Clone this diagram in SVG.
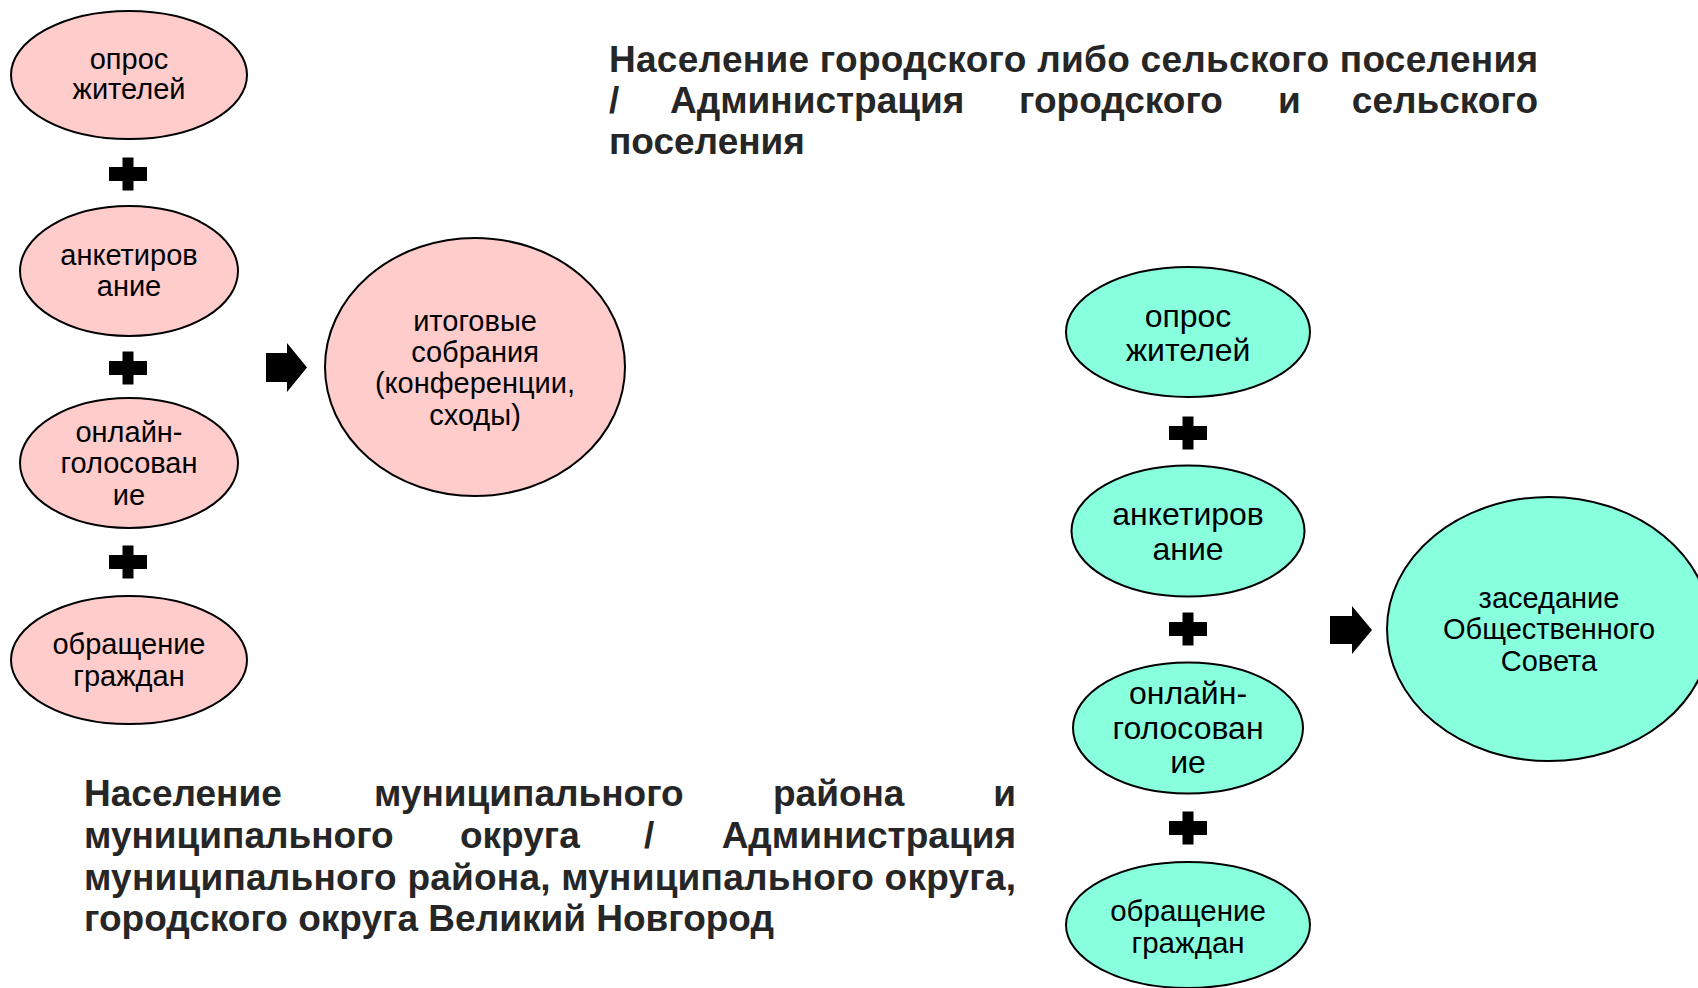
<svg xmlns="http://www.w3.org/2000/svg" xmlns:xlink="http://www.w3.org/1999/xlink" width="1698" height="988" viewBox="0 0 1698 988">
<style>
.pink{fill:#FFCCCC;stroke:#000;stroke-width:2}
.green{fill:#88FFDD;stroke:#000;stroke-width:2}
.t{font-family:"Liberation Sans",Arial,sans-serif;fill:#000;text-anchor:middle}
.p{font-size:29px}
.g{font-size:32px}
.g4{font-size:29.5px}
.gb{font-size:29px}
.h{font-family:"Liberation Sans",Arial,sans-serif;font-weight:bold;font-size:37px;fill:#262626}
.e{text-anchor:end}
</style>
<defs>
<path id="plus" d="M-19,-7H-5.5V-16.5H5.5V-7H19V7H5.5V16.5H-5.5V7H-19Z" fill="#000"/>
</defs>
<rect width="1698" height="988" fill="#fff"/>

<g id="title-top">
<text class="h" x="609" y="72" textLength="929" lengthAdjust="spacing">Население городского либо сельского поселения</text>
<text class="h" y="113"><tspan x="609">/</tspan><tspan x="670">Администрация</tspan><tspan x="1019">городского</tspan><tspan x="1278">и</tspan></text>
<text class="h e" x="1538" y="113">сельского</text>
<text class="h" x="609" y="154">поселения</text>
</g>

<g id="title-bottom">
<text class="h" y="806"><tspan x="84">Население</tspan><tspan x="374">муниципального</tspan><tspan x="773">района</tspan></text>
<text class="h e" x="1016" y="806">и</text>
<text class="h" y="848"><tspan x="84">муниципального</tspan><tspan x="460">округа</tspan><tspan x="644">/</tspan></text>
<text class="h e" x="1016" y="848">Администрация</text>
<text class="h" x="84" y="890" textLength="932" lengthAdjust="spacing">муниципального района, муниципального округа,</text>
<text class="h" x="84" y="931">городского округа Великий Новгород</text>
</g>

<g id="p1"><ellipse class="pink" cx="129" cy="75" rx="118" ry="64"/>
<text class="t p"><tspan x="129" y="69">опрос</tspan><tspan x="129" y="99">жителей</tspan></text></g>
<g id="p2"><ellipse class="pink" cx="129" cy="271" rx="109" ry="65"/>
<text class="t p"><tspan x="129" y="265">анкетиров</tspan><tspan x="129" y="296">ание</tspan></text></g>
<g id="p3"><ellipse class="pink" cx="129" cy="463" rx="109" ry="65"/>
<text class="t p"><tspan x="129" y="442">онлайн-</tspan><tspan x="129" y="473">голосован</tspan><tspan x="129" y="505">ие</tspan></text></g>
<g id="p4"><ellipse class="pink" cx="129" cy="660" rx="118" ry="64"/>
<text class="t p"><tspan x="129" y="654">обращение</tspan><tspan x="129" y="686">граждан</tspan></text></g>
<g id="p5"><ellipse class="pink" cx="475" cy="367" rx="150" ry="129"/>
<text class="t p"><tspan x="475" y="331">итоговые</tspan><tspan x="475" y="362">собрания</tspan><tspan x="475" y="393">(конференции,</tspan><tspan x="475" y="425">сходы)</tspan></text></g>

<g id="g1"><ellipse class="green" cx="1188" cy="332" rx="122" ry="65"/>
<text class="t g"><tspan x="1188" y="327">опрос</tspan><tspan x="1188" y="361">жителей</tspan></text></g>
<g id="g2"><ellipse class="green" cx="1188" cy="531" rx="116.5" ry="65.5"/>
<text class="t g"><tspan x="1188" y="525">анкетиров</tspan><tspan x="1188" y="560">ание</tspan></text></g>
<g id="g3"><ellipse class="green" cx="1188" cy="728" rx="115" ry="65.5"/>
<text class="t g"><tspan x="1188" y="704">онлайн-</tspan><tspan x="1188" y="739">голосован</tspan><tspan x="1188" y="773">ие</tspan></text></g>
<g id="g4"><ellipse class="green" cx="1188" cy="925" rx="122" ry="63"/>
<text class="t g4"><tspan x="1188" y="921">обращение</tspan><tspan x="1188" y="953">граждан</tspan></text></g>
<g id="g5"><ellipse class="green" cx="1549" cy="629" rx="162" ry="132"/>
<text class="t gb"><tspan x="1549" y="608">заседание</tspan><tspan x="1549" y="639">Общественного</tspan><tspan x="1549" y="671">Совета</tspan></text></g>

<g id="connectors">
<use xlink:href="#plus" href="#plus" x="128" y="174"/>
<use xlink:href="#plus" href="#plus" x="128" y="368"/>
<use xlink:href="#plus" href="#plus" x="128" y="562"/>
<use xlink:href="#plus" href="#plus" x="1188" y="433"/>
<use xlink:href="#plus" href="#plus" x="1188" y="629"/>
<use xlink:href="#plus" href="#plus" x="1188" y="828"/>
<path d="M266,353H287V343L307,367.5L287,392V382H266Z" fill="#000"/>
<path d="M1330,616H1352V606L1372,630L1352,654V644H1330Z" fill="#000"/>
</g>
</svg>
